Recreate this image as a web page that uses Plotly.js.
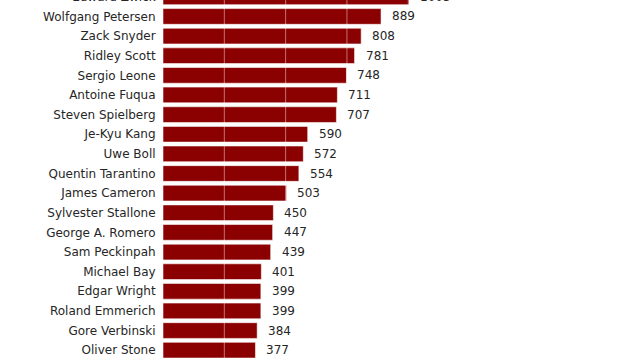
<!DOCTYPE html>
<html>
<head>
<meta charset="utf-8">
<script src="https://cdn.plot.ly/plotly-3.0.1.min.js"></script>
<style>
  html, body { margin: 0; padding: 0; overflow: hidden; background: #fff; width: 620px; height: 360px; }
  #chart { position: absolute; left: 0; top: -20px; width: 620px; height: 380px; }
</style>
</head>
<body>
<div id="chart"></div>
<script>
const directors = [
  "Edward Zwick", "Wolfgang Petersen", "Zack Snyder", "Ridley Scott", "Sergio Leone",
  "Antoine Fuqua", "Steven Spielberg", "Je-Kyu Kang", "Uwe Boll", "Quentin Tarantino",
  "James Cameron", "Sylvester Stallone", "George A. Romero", "Sam Peckinpah", "Michael Bay",
  "Edgar Wright", "Roland Emmerich", "Gore Verbinski", "Oliver Stone"
];
const counts = [1003, 889, 808, 781, 748, 711, 707, 590, 572, 554, 503, 450, 447, 439, 401, 399, 399, 384, 377];
const gridValues = [250, 500, 750, 1000];

const trace = {
  type: "bar",
  orientation: "h",
  x: counts,
  y: directors,
  marker: { color: "#8b0000", line: { color: "rgba(255,255,255,0.55)", width: 1 } },
  hoverinfo: "x+y"
};

const annotations = directors.map((d, i) => ({
  x: counts[i], y: d, xref: "x", yref: "y",
  text: String(counts[i]), showarrow: false,
  xanchor: "left", yanchor: "middle", xshift: 9,
  font: { family: "DejaVu Sans", size: 12, color: "#262626" }
}));

const shapes = gridValues.map(v => ({
  type: "line", xref: "x", yref: "paper",
  x0: v, x1: v, y0: 0, y1: 1,
  layer: "above",
  line: { color: "rgba(255,255,255,0.45)", width: 1 }
}));

const layout = {
  width: 620, height: 380,
  margin: { l: 163, r: 30, t: 7, b: 0 },
  paper_bgcolor: "#ffffff",
  plot_bgcolor: "#ffffff",
  bargap: 0.2,
  showlegend: false,
  font: { family: "DejaVu Sans", size: 12, color: "#262626" },
  xaxis: {
    range: [0, 1741],
    showgrid: false, zeroline: false, showline: false,
    showticklabels: false, ticks: ""
  },
  yaxis: {
    type: "category",
    autorange: false,
    range: [18.5, -0.5],
    showgrid: false, zeroline: false, showline: false,
    ticks: "outside", ticklen: 4, tickcolor: "rgba(0,0,0,0)",
    tickfont: { family: "DejaVu Sans", size: 12, color: "#262626" }
  },
  annotations: annotations,
  shapes: shapes
};

Plotly.newPlot("chart", [trace], layout, { displayModeBar: false, staticPlot: true });
</script>
</body>
</html>
